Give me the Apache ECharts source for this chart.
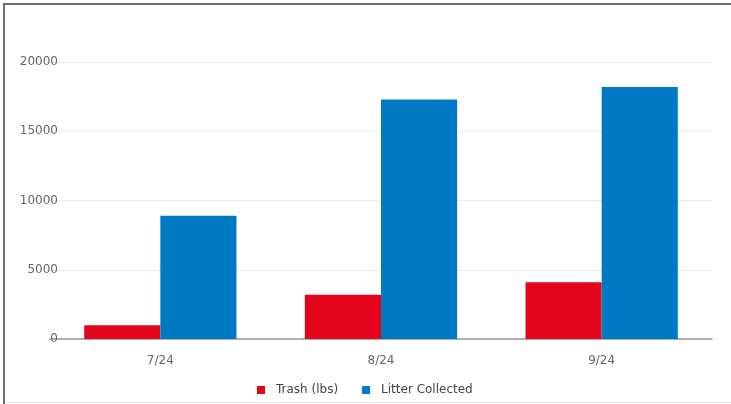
<!DOCTYPE html>
<html>
<head>
<meta charset="utf-8">
<script src="https://cdn.jsdelivr.net/npm/echarts@6/dist/echarts.min.js"></script>
<style>
html,body{margin:0;padding:0;background:#fff;overflow:hidden;width:731px;height:404px;}
.ln{position:absolute;}
#chart{position:absolute;left:0;top:0;width:731px;height:404px;}
</style>
</head>
<body>
<div class="ln" style="left:3px;top:3px;width:2px;height:401px;background:#6e6e6e"></div>
<div class="ln" style="left:3px;top:3px;width:728px;height:2px;background:#6e6e6e"></div>
<div class="ln" style="left:5px;top:402px;width:726px;height:1px;background:#e4e4e4"></div>
<div id="chart"></div>
<script>
const categories = ['7/24', '8/24', '9/24'];
const trashLbs = [1000, 3200, 4100];
const litterCollected = [8900, 17300, 18200];
const seriesNames = ['Trash (lbs)', 'Litter Collected'];

const chart = echarts.init(document.getElementById('chart'), null, {renderer: 'canvas'});
const font = 'DejaVu Sans';
chart.setOption({
  animation: false,
  backgroundColor: 'transparent',
  textStyle: {fontFamily: font},
  grid: {left: 50, right: 19, top: 62, bottom: 65, containLabel: false},
  legend: {
    data: seriesNames,
    left: 252, top: 379,
    icon: 'rect', itemWidth: 8, itemHeight: 8, itemGap: 24,
    textStyle: {fontFamily: font, fontSize: 12, color: '#444', padding: [0, 0, 0, 6]}
  },
  xAxis: {
    type: 'category', data: categories,
    axisLine: {lineStyle: {color: '#999', width: 1.5}},
    axisTick: {show: false},
    axisLabel: {fontFamily: font, fontSize: 12, color: '#666', margin: 16}
  },
  yAxis: {
    type: 'value', min: 0, max: 20000, interval: 5000,
    axisLine: {show: false}, axisTick: {show: false},
    splitLine: {lineStyle: {color: '#ebebeb', width: 1}},
    axisLabel: {fontFamily: font, fontSize: 12, color: '#666', margin: -8,
      formatter: function (v) { return String(v); }}
  },
  series: [
    {name: seriesNames[0], type: 'bar', data: trashLbs, barGap: '0%', barCategoryGap: '31%',
     itemStyle: {color: '#E3061A'}},
    {name: seriesNames[1], type: 'bar', data: litterCollected, barGap: '0%', barCategoryGap: '31%',
     itemStyle: {color: '#0079C5'}}
  ]
});
</script>
</body>
</html>
